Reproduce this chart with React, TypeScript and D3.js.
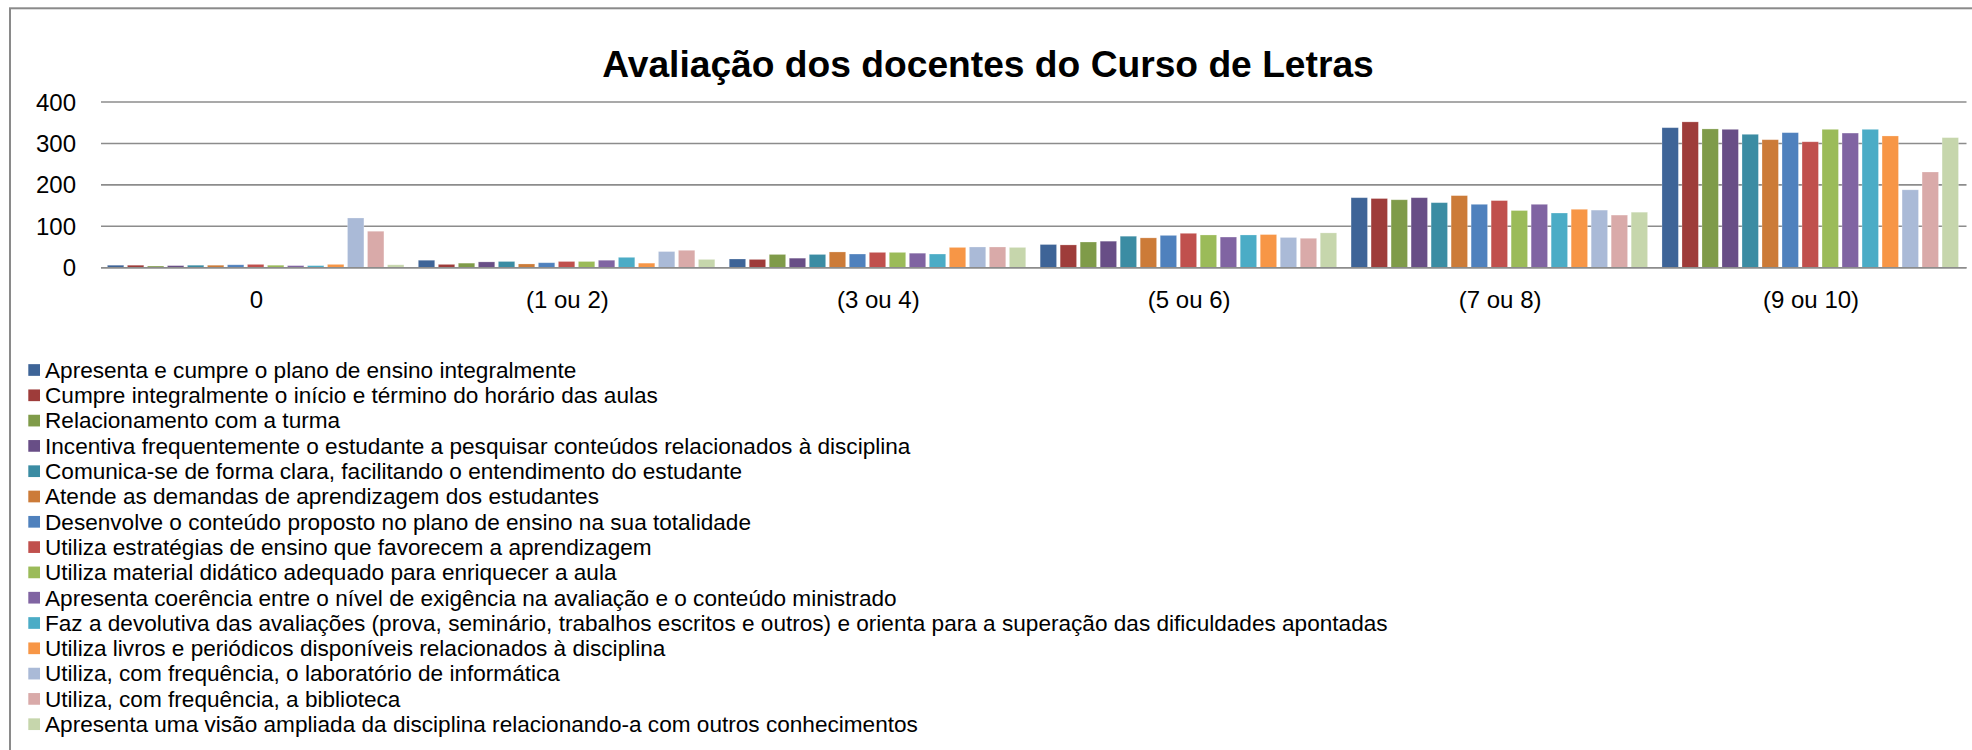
import React from "react";
import * as d3 from "d3";

const TITLE = "Avaliação dos docentes do Curso de Letras";

const categories = ["0", "(1 ou 2)", "(3 ou 4)", "(5 ou 6)", "(7 ou 8)", "(9 ou 10)"];

const seriesNames = [
  "Apresenta e cumpre o plano de ensino integralmente",
  "Cumpre integralmente o início e término do horário das aulas",
  "Relacionamento com a turma",
  "Incentiva frequentemente o estudante a pesquisar conteúdos relacionados à disciplina",
  "Comunica-se de forma clara, facilitando o entendimento do estudante",
  "Atende as demandas de aprendizagem dos estudantes",
  "Desenvolve o conteúdo proposto no plano de ensino na sua totalidade",
  "Utiliza estratégias de ensino que favorecem a aprendizagem",
  "Utiliza material didático adequado para enriquecer a aula",
  "Apresenta coerência entre o nível de exigência na avaliação e o conteúdo ministrado",
  "Faz a devolutiva das avaliações (prova, seminário, trabalhos escritos e outros) e orienta para a superação das dificuldades apontadas",
  "Utiliza livros e periódicos disponíveis relacionados à disciplina",
  "Utiliza, com frequência, o laboratório de informática",
  "Utiliza, com frequência, a biblioteca",
  "Apresenta uma visão ampliada da disciplina relacionando-a com outros conhecimentos",
];

const seriesColors = [
  "#3E6497", "#9E3C3A", "#7F9B49", "#684E86", "#3B8CA3", "#CC7B38", "#4F81BD",
  "#C0504D", "#9BBB59", "#8064A2", "#4BACC6", "#F79646", "#AABAD7", "#D9AAA9", "#C6D6AC",
];

// values per category, one entry per series (in series order)
const values0 = [6, 6, 4, 5, 6, 6, 7, 8, 6, 5, 5, 8, 120, 88, 7];
const values12 = [18, 8, 11, 14, 15, 9, 12, 15, 15, 18, 25, 11, 39, 42, 20];
const values34 = [21, 20, 32, 23, 32, 38, 33, 37, 37, 35, 33, 49, 50, 50, 49];
const values56 = [56, 55, 62, 64, 76, 72, 78, 83, 79, 74, 79, 80, 73, 71, 84];
const values78 = [169, 167, 164, 169, 157, 174, 153, 162, 138, 153, 132, 141, 139, 127, 134];
const values910 = [338, 352, 335, 334, 322, 309, 326, 304, 334, 325, 334, 318, 188, 231, 314];

const categoryValues = [values0, values12, values34, values56, values78, values910];

const yTicks = [0, 100, 200, 300, 400];

const FONT = "'Liberation Sans', Arial, sans-serif";

export default function App() {
  const W = 1972;
  const H = 750;
  const plotLeft = 101;
  const plotRight = 1966.5;
  const y0 = 267.7;
  const yTop = 102;

  const x0 = d3.scaleBand<string>().domain(categories).range([plotLeft, plotRight]).paddingInner(0).paddingOuter(0);
  const x1 = d3
    .scaleBand<string>()
    .domain(seriesNames)
    .range([0, x0.bandwidth()])
    .paddingInner(0)
    .paddingOuter(0.27);
  const y = d3.scaleLinear().domain([0, 400]).range([y0, yTop]);

  const barW = x1.bandwidth() - 3.6;

  const legendX = 28.3;
  const legendY0 = 370;
  const legendStep = 25.3;
  const sq = 11.7;

  return (
    <svg
      width={W}
      height={H}
      style={{ position: "absolute", left: 0, top: 0, background: "#fff" }}
      fontFamily={FONT}
    >
      <rect x={0} y={0} width={W} height={H} fill="#fff" />
      <rect x={10} y={8.3} width={W + 20} height={H + 20} fill="#fff" stroke="#8a8a8a" strokeWidth={2} />

      <text x={988} y={77.3} textAnchor="middle" fontSize={37.2} fontWeight="bold" fill="#000">
        {TITLE}
      </text>

      {yTicks.map((t) => (
        <g key={t}>
          <line x1={plotLeft} x2={plotRight} y1={y(t)} y2={y(t)} stroke="#8c8c8c" strokeWidth={1.6} />
          <text x={76} y={y(t) + 8.6} textAnchor="end" fontSize={24} fill="#000">
            {t}
          </text>
        </g>
      ))}

      {categories.map((c, ci) => (
        <g key={c} transform={`translate(${x0(c)},0)`}>
          {seriesNames.map((s, si) => {
            const v = categoryValues[ci][si];
            return (
              <rect
                key={s}
                x={(x1(s) as number) + 1}
                y={y(v)}
                width={barW}
                height={y0 - y(v)}
                fill={seriesColors[si]}
                stroke="rgba(255,255,255,0.3)"
                strokeWidth={0.8}
              />
            );
          })}
          <text x={x0.bandwidth() / 2} y={307.7} textAnchor="middle" fontSize={24} fill="#000">
            {c}
          </text>
        </g>
      ))}

      <line x1={plotLeft} x2={plotRight} y1={y0} y2={y0} stroke="#8c8c8c" strokeWidth={1.6} />

      {seriesNames.map((s, i) => {
        const cy = legendY0 + i * legendStep;
        return (
          <g key={s}>
            <rect x={legendX} y={cy - sq / 2} width={sq} height={sq} fill={seriesColors[i]} />
            <text x={45} y={cy + 7.8} fontSize={22.6} fill="#000">
              {s}
            </text>
          </g>
        );
      })}
    </svg>
  );
}
